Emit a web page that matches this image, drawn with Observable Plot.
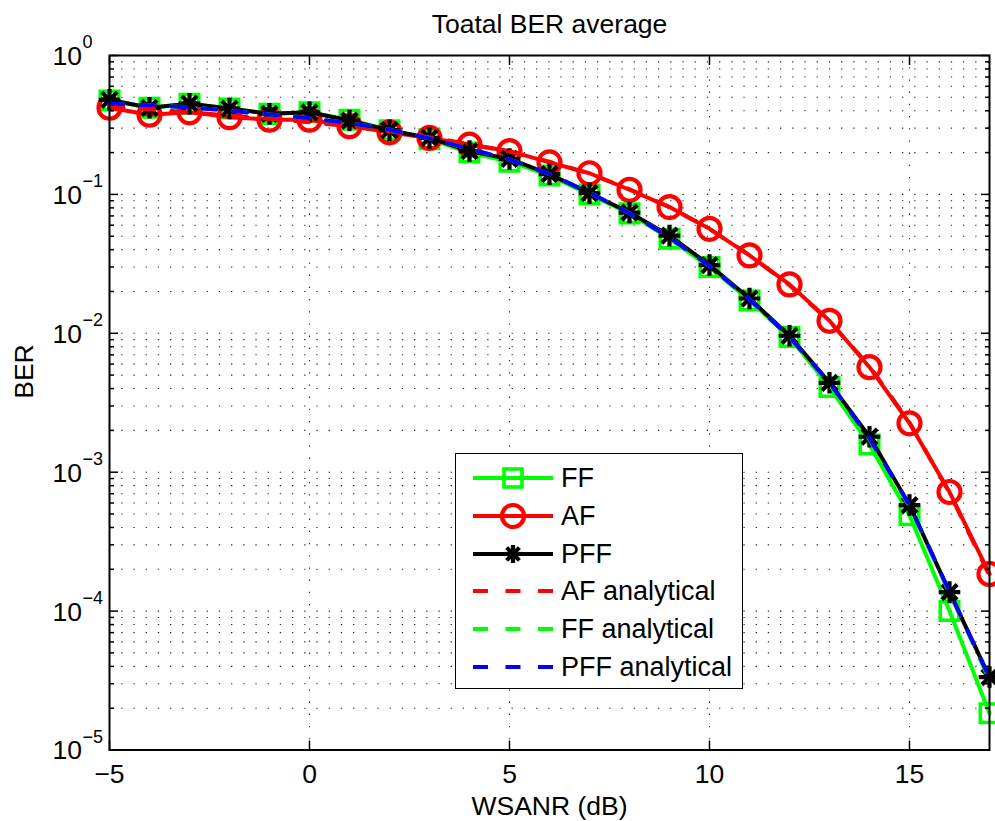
<!DOCTYPE html>
<html>
<head>
<meta charset="utf-8">
<script src="https://cdn.jsdelivr.net/npm/d3@7"></script>
<script src="https://cdn.jsdelivr.net/npm/@observablehq/plot@0.6"></script>
<style>
  html, body { margin: 0; padding: 0; background: #fff; }
  #wrap { position: relative; width: 995px; height: 821px; font-family: "Liberation Sans", Arial, sans-serif; }
  #legend { position: absolute; left: 455px; top: 453px; width: 286px; height: 234px; border: 1.3px solid #000; background: #fff; }
  .row { position: absolute; left: 0; height: 38px; width: 286px; }
  .row svg { position: absolute; left: 0; top: 0; }
  .row span { position: absolute; left: 105px; top: 3px; font-size: 27px; line-height: 32px; color: #000; white-space: nowrap; }
</style>
</head>
<body>
<div id="wrap"></div>
<script>
// ---- data ----
const snr = [-5,-4,-3,-2,-1,0,1,2,3,4,5,6,7,8,9,10,11,12,13,14,15,16,17];
const ffSim  = [0.475,0.42,0.45,0.415,0.38,0.39,0.345,0.29,0.25,0.2,0.172,0.137,0.1,0.073,0.048,0.030,0.0172,0.0094,0.0041,0.00158,4.9e-4,1.0e-4,1.84e-5];
const afSim  = [0.42,0.375,0.39,0.36,0.345,0.345,0.31,0.28,0.255,0.228,0.205,0.17,0.142,0.108,0.081,0.0565,0.0364,0.0225,0.0123,0.0057,0.00225,7.2e-4,1.85e-4];
const pffSim = [0.48,0.42,0.45,0.415,0.38,0.39,0.34,0.29,0.255,0.205,0.18,0.14,0.102,0.074,0.0505,0.031,0.0178,0.0096,0.0044,0.0018,5.8e-4,1.37e-4,3.35e-5];
const afAna  = [0.43,0.41,0.39,0.37,0.35,0.33,0.31,0.285,0.258,0.23,0.203,0.172,0.141,0.109,0.081,0.0565,0.0365,0.0222,0.0122,0.0058,0.00228,7.1e-4,1.8e-4];
const ffAna  = [0.45,0.437,0.424,0.40,0.376,0.354,0.326,0.292,0.253,0.213,0.178,0.14,0.103,0.073,0.049,0.0305,0.0176,0.0094,0.0043,0.00172,5.7e-4,1.35e-4,3.2e-5];
const pffAna = [0.45,0.437,0.424,0.40,0.376,0.354,0.326,0.292,0.253,0.213,0.178,0.14,0.103,0.073,0.049,0.0305,0.0176,0.0094,0.0044,0.00175,5.8e-4,1.38e-4,3.3e-5];

const xTicks = [-5, 0, 5, 10, 15];
const xTickLabels = ["\u22125", "0", "5", "10", "15"];
const yMajor = [1, 0.1, 0.01, 0.001, 0.0001, 0.00001];
const yExpLabels = ["0", "\u22121", "\u22122", "\u22123", "\u22124", "\u22125"];
const yMinor = [];
for (let k = -5; k < 0; k++) for (let m = 2; m <= 9; m++) yMinor.push(m * Math.pow(10, k));

const titleText = "Toatal BER average";
const xLabel = "WSANR (dB)";
const yLabel = "BER";

const legendItems = [
  {label: "FF", color: "#00ff00", dash: null, marker: "square"},
  {label: "AF", color: "#ff0000", dash: null, marker: "circle"},
  {label: "PFF", color: "#000000", dash: null, marker: "star"},
  {label: "AF analytical", color: "#ff0000", dash: "15,17.5", marker: null},
  {label: "FF analytical", color: "#00ff00", dash: "15,17.5", marker: null},
  {label: "PFF analytical", color: "#0000ff", dash: "15,17.5", marker: null}
];

const rows = snr.map((x, i) => ({x, ff: ffSim[i], af: afSim[i], pff: pffSim[i], afA: afAna[i], ffA: ffAna[i], pffA: pffAna[i]}));

const GREEN = "#00ff00", RED = "#ff0000", BLUE = "#0000ff";
const FS = 26.5;
const grid = {stroke: "#000", strokeOpacity: 0.85, strokeWidth: 1.1, strokeDasharray: "1.3,10.9"};
const dash = "14,17";

const chart = Plot.plot({
  width: 995, height: 821,
  marginLeft: 109, marginRight: 6, marginTop: 55, marginBottom: 71.5,
  style: {fontFamily: "'Liberation Sans', Arial, sans-serif", background: "#fff", color: "#000"},
  x: {domain: [-5, 17]},
  y: {type: "log", domain: [1e-5, 1]},
  marks: [
    Plot.gridY(yMinor, grid),
    Plot.gridY(yMajor, grid),
    Plot.gridX([0, 5, 10, 15], grid),
    // FF
    Plot.line(rows, {x: "x", y: "ff", stroke: GREEN, strokeWidth: 4}),
    Plot.dot(rows, {x: "x", y: "ff", symbol: "square", r: 10.4, stroke: GREEN, strokeWidth: 3.6, fill: "none"}),
    // AF
    Plot.line(rows, {x: "x", y: "af", stroke: RED, strokeWidth: 4}),
    Plot.dot(rows, {x: "x", y: "af", r: 11, stroke: RED, strokeWidth: 4.2, fill: "none"}),
    // PFF
    Plot.line(rows, {x: "x", y: "pff", stroke: "#000", strokeWidth: 4}),
    Plot.dot(rows, {x: "x", y: "pff", symbol: "plus", r: 7, stroke: "#000", strokeWidth: 4.2}),
    Plot.dot(rows, {x: "x", y: "pff", symbol: "times", r: 7, stroke: "#000", strokeWidth: 4.2}),
    Plot.dot(rows, {x: "x", y: "pff", r: 3.5, fill: "#000"}),
    // analytical
    Plot.line(rows, {x: "x", y: "afA", stroke: RED, strokeWidth: 4, strokeDasharray: dash}),
    Plot.line(rows, {x: "x", y: "ffA", stroke: GREEN, strokeWidth: 4, strokeDasharray: dash}),
    Plot.line(rows, {x: "x", y: "pffA", stroke: BLUE, strokeWidth: 4, strokeDasharray: dash}),
    // box and inner ticks
    Plot.frame({stroke: "#000", strokeWidth: 2}),
    Plot.axisX(xTicks, {anchor: "bottom", tickSize: -9, tickFormat: () => "", label: null, strokeWidth: 1.5}),
    Plot.axisX(xTicks, {anchor: "top", tickSize: -9, tickFormat: () => "", label: null, strokeWidth: 1.5}),
    Plot.axisY(yMajor, {anchor: "left", tickSize: -9, tickFormat: () => "", label: null, strokeWidth: 1.5}),
    Plot.axisY(yMajor, {anchor: "right", tickSize: -9, tickFormat: () => "", label: null, strokeWidth: 1.5}),
    Plot.axisY(yMinor, {anchor: "left", tickSize: -5, tickFormat: () => "", label: null, strokeWidth: 1.5}),
    Plot.axisY(yMinor, {anchor: "right", tickSize: -5, tickFormat: () => "", label: null, strokeWidth: 1.5}),
    // tick labels
    Plot.text(xTicks, {x: d => d, frameAnchor: "bottom", lineAnchor: "middle", dy: 25, text: (d, i) => xTickLabels[i], fontSize: FS, fill: "#000"}),
    Plot.text(yMajor, {y: d => d, frameAnchor: "left", lineAnchor: "middle", dx: -57, dy: 1, textAnchor: "start", text: () => "10", fontSize: FS, fill: "#000"}),
    Plot.text(yMajor, {y: d => d, frameAnchor: "left", lineAnchor: "middle", dx: -27, dy: -13, textAnchor: "start", text: (d, i) => yExpLabels[i], fontSize: 18, fill: "#000"}),
    // title and axis labels
    Plot.text([titleText], {frameAnchor: "top", lineAnchor: "middle", dy: -30.5, text: d => d, fontSize: FS, fill: "#000"}),
    Plot.text([xLabel], {frameAnchor: "bottom", lineAnchor: "middle", dy: 57, text: d => d, fontSize: FS, fill: "#000"}),
    Plot.text([yLabel], {frameAnchor: "left", lineAnchor: "middle", dx: -85, dy: -4, rotate: -90, text: d => d, fontSize: FS, fill: "#000"})
  ]
});

const wrap = document.getElementById("wrap");
wrap.appendChild(chart);

// legend overlay
const legend = document.createElement("div");
legend.id = "legend";
wrap.appendChild(legend);
const NS = "http://www.w3.org/2000/svg";
legendItems.forEach((it, i) => {
  const row = document.createElement("div");
  row.className = "row";
  row.style.top = (5 + i * 37.8) + "px";
  const svg = document.createElementNS(NS, "svg");
  svg.setAttribute("width", 100); svg.setAttribute("height", 38);
  const ln = document.createElementNS(NS, "line");
  ln.setAttribute("x1", 17); ln.setAttribute("x2", 97); ln.setAttribute("y1", 19); ln.setAttribute("y2", 19);
  ln.setAttribute("stroke", it.color); ln.setAttribute("stroke-width", 4);
  if (it.dash) ln.setAttribute("stroke-dasharray", it.dash);
  svg.appendChild(ln);
  if (it.marker === "square") {
    const r = document.createElementNS(NS, "rect");
    r.setAttribute("x", 57 - 9); r.setAttribute("y", 19 - 9); r.setAttribute("width", 18); r.setAttribute("height", 18);
    r.setAttribute("fill", "none"); r.setAttribute("stroke", it.color); r.setAttribute("stroke-width", 3.6);
    svg.appendChild(r);
  } else if (it.marker === "circle") {
    const c = document.createElementNS(NS, "circle");
    c.setAttribute("cx", 57); c.setAttribute("cy", 19); c.setAttribute("r", 11);
    c.setAttribute("fill", "none"); c.setAttribute("stroke", it.color); c.setAttribute("stroke-width", 4.2);
    svg.appendChild(c);
  } else if (it.marker === "star") {
    [0, 45, 90, 135].forEach(a => {
      const s = document.createElementNS(NS, "line");
      const rad = a * Math.PI / 180, L = 9;
      s.setAttribute("x1", 57 - L * Math.cos(rad)); s.setAttribute("y1", 19 - L * Math.sin(rad));
      s.setAttribute("x2", 57 + L * Math.cos(rad)); s.setAttribute("y2", 19 + L * Math.sin(rad));
      s.setAttribute("stroke", it.color); s.setAttribute("stroke-width", 4.2);
      svg.appendChild(s);
    });
    const c = document.createElementNS(NS, "circle");
    c.setAttribute("cx", 57); c.setAttribute("cy", 19); c.setAttribute("r", 3.5); c.setAttribute("fill", it.color);
    svg.appendChild(c);
  }
  row.appendChild(svg);
  const sp = document.createElement("span");
  sp.textContent = it.label;
  row.appendChild(sp);
  legend.appendChild(row);
});
</script>
</body>
</html>
